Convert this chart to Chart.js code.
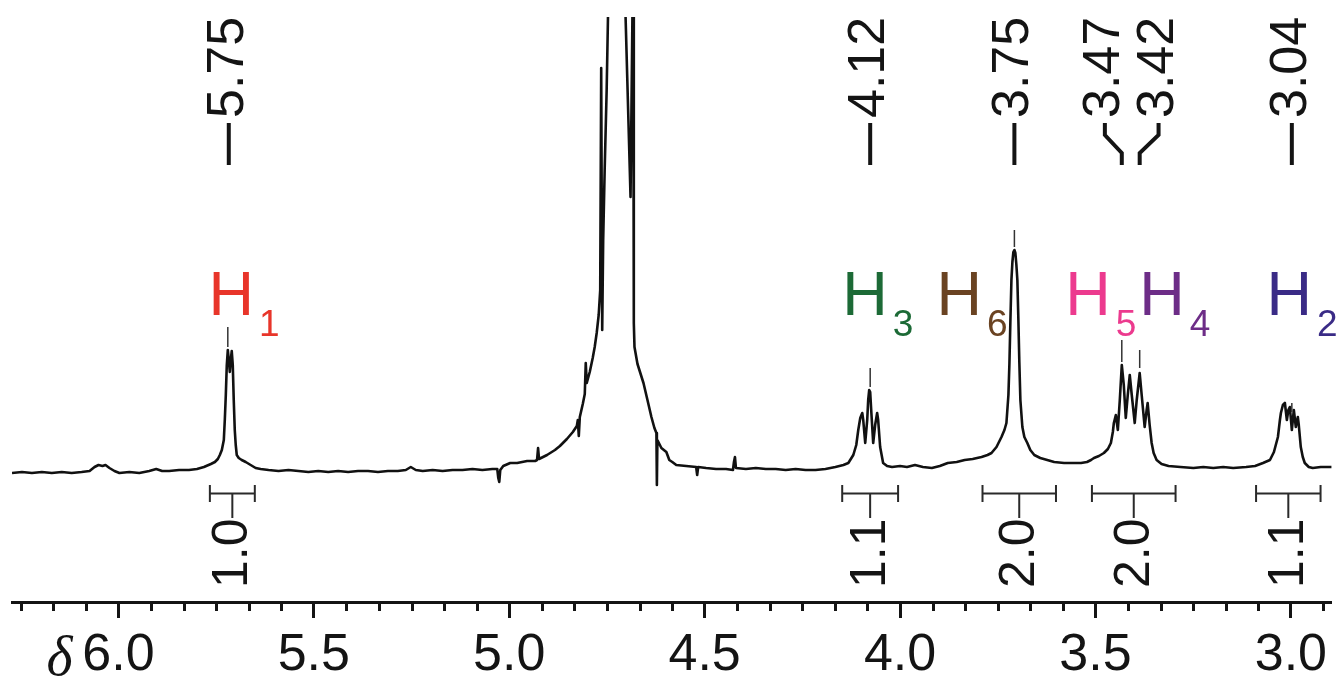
<!DOCTYPE html>
<html>
<head>
<meta charset="utf-8">
<script src="https://cdn.jsdelivr.net/npm/chart.js@4.4.1/dist/chart.umd.min.js"></script>
<style>
html,body{margin:0;padding:0;background:#fff;}
canvas{display:block;}
</style>
</head>
<body>
<canvas id="c" width="1339" height="680"></canvas>
<script>
// ---- spectrum (chemical shift δ / ppm, intensity a.u.) ----
const shiftPpm = [
6.2723,6.2468,6.2214,6.1959,6.1705,6.1450,6.1196,6.0941,6.0738,6.0611,6.0509,6.0407,6.0331,6.0229,6.0102,5.9975,
5.9720,5.9466,5.9211,5.9033,5.8881,5.8702,5.8448,5.8194,5.7990,5.7812,5.7634,5.7532,5.7456,5.7405,5.7354,5.7303,
5.7278,5.7252,5.7227,5.7201,5.7176,5.7150,5.7125,5.7100,5.7074,5.7049,5.7023,5.6998,5.6972,5.6921,5.6845,5.6743,
5.6616,5.6489,5.6361,5.6158,5.5903,5.5649,5.5393,5.5140,5.4886,5.4631,5.4377,5.4122,5.3868,5.3613,5.3359,5.3104,
5.2850,5.2646,5.2519,5.2391,5.2213,5.1959,5.1705,5.1450,5.1196,5.0941,5.0687,5.0432,5.0306,5.0280,5.0255,5.0229,
5.0153,4.9975,4.9797,4.9542,4.9338,4.9288,4.9262,4.9237,4.9033,4.8830,4.8703,4.8525,4.8372,4.8270,4.8245,4.8220,
4.8194,4.8118,4.8067,4.8042,4.8016,4.7940,4.7864,4.7813,4.7762,4.7711,4.7672,4.7647,4.7621,4.7596,4.7558,4.7507,
4.7456,4.7252,4.7048,4.7023,4.6896,4.6830,4.6812,4.6795,4.6718,4.6565,4.6463,4.6362,4.6285,4.6234,4.6222,4.6209,
4.6107,4.5980,4.5904,4.5828,4.5726,4.5471,4.5217,4.5191,4.5166,4.4962,4.4708,4.4453,4.4275,4.4250,4.4224,4.4199,
4.3944,4.3690,4.3435,4.3181,4.2926,4.2672,4.2418,4.2163,4.1909,4.1654,4.1450,4.1323,4.1196,4.1120,4.1069,4.1018,
4.0967,4.0942,4.0891,4.0840,4.0815,4.0789,4.0764,4.0738,4.0687,4.0637,4.0586,4.0560,4.0509,4.0433,4.0331,4.0205,
4.0000,3.9822,3.9618,3.9415,3.9186,3.8982,3.8779,3.8550,3.8346,3.8142,3.7914,3.7761,3.7660,3.7532,3.7405,3.7329,
3.7278,3.7227,3.7201,3.7176,3.7150,3.7125,3.7100,3.7074,3.7049,3.7023,3.6998,3.6972,3.6947,3.6921,3.6870,3.6819,
3.6743,3.6667,3.6565,3.6412,3.6234,3.6056,3.5802,3.5547,3.5369,3.5216,3.5114,3.5038,3.4911,3.4784,3.4682,3.4605,
3.4555,3.4529,3.4478,3.4427,3.4377,3.4326,3.4275,3.4224,3.4173,3.4122,3.4071,3.3995,3.3944,3.3868,3.3817,3.3741,
3.3690,3.3664,3.3613,3.3562,3.3511,3.3435,3.3308,3.3130,3.2825,3.2494,3.2240,3.1985,3.1731,3.1476,3.1145,3.0916,
3.0713,3.0535,3.0433,3.0331,3.0280,3.0255,3.0204,3.0153,3.0102,3.0064,3.0026,2.9975,2.9924,2.9873,2.9822,2.9797,
2.9746,2.9695,2.9644,2.9542,2.9440,2.9236,2.8956
];
const intensity = [
-1,0,-1,0,-1,0,-1,0,1,5,7,6,7,4,1,-1,
0,-1,1,3,1,1,2,2,3,5,8,10,13,17,22,32,
52,77,107,122,112,100,112,121,107,72,42,27,17,14,12,10,
7,4,3,2,1,2,1,0,1,0,1,0,1,1,0,1,
1,2,5,2,1,2,1,2,2,3,2,3,3,-6,-10,2,
6,9,9,11,11,12,24,13,17,22,26,33,40,46,52,36,
55,68,78,109,89,100,114,125,139,157,182,404,142,232,302,382,
492,1500,492,455,275,522,149,125,108,89,72,55,44,39,-13,32,
24,20,12,10,7,6,5,-3,5,4,3,3,2,10,15,4,
3,4,3,3,2,3,2,2,3,5,7,9,17,27,42,54,
59,52,29,52,72,82,80,62,29,47,59,52,25,9,6,5,
6,5,7,5,4,6,9,10,12,13,15,17,19,25,35,42,
49,77,109,152,192,210,220,222,219,207,192,152,109,72,45,35,
29,22,17,14,12,10,9,9,9,10,12,14,16,19,23,29,
40,49,57,42,72,107,87,54,77,97,77,49,72,99,77,45,
62,69,47,29,19,12,8,6,5,4,5,4,5,4,5,6,
9,12,20,35,52,59,67,69,52,62,65,42,62,45,55,47,
25,15,9,5,4,5,5
];

// ---- axis ----
const axisMax = 6.2723, axisMin = 2.8956;
const majorTicks = [6.0, 5.5, 5.0, 4.5, 4.0, 3.5, 3.0];
const tickLabels = ['6.0', '5.5', '5.0', '4.5', '4.0', '3.5', '3.0'];

// ---- peak picking (label text, label anchor ppm, peak ppm) ----
const shiftLabels = ['5.75', '4.12', '3.75', '3.47', '3.42', '3.04'];
const shiftAnchor = [5.7176, 4.0764, 3.7074, 3.4759, 3.3385, 2.9975];
const shiftPeak = [5.7176, 4.0764, 3.7074, 3.4326, 3.3868, 2.9975];

// ---- assignment marks above peaks (ppm, intensity from, intensity to) ----
const markPpm = [5.7201, 4.0764, 3.7074, 3.4326, 3.3868, 2.9975];
const markFrom = [125, 85, 225, 110, 104, 60];
const markTo = [145, 104, 242, 132, 122, 69];

// ---- proton assignments ----
const protonSub = ['1', '3', '6', '5', '4', '2'];
const protonPpm = [5.7112, 4.0894, 3.8486, 3.5191, 3.3296, 3.0039];
const protonColor = ['#e8352a', '#1c6a36', '#6a4322', '#ec3a8e', '#6d2d87', '#3a2b86'];

// ---- integrals ----
const integFrom = [5.766, 4.148, 3.789, 3.509, 3.089];
const integTo = [5.651, 4.005, 3.601, 3.295, 2.924];
const integValue = ['1.0', '1.1', '2.0', '2.0', '1.1'];

const NARROW = '"Liberation Sans Narrow", "Arial Narrow", "Liberation Sans", sans-serif';
const INK = '#141414';

const annotPlugin = {
  id: 'annot',
  afterDraw(chart) {
    const { ctx, chartArea } = chart;
    const xs = chart.scales.x, ys = chart.scales.y;
    ctx.save();
    // minor ticks every 1/12 ppm
    ctx.strokeStyle = INK; ctx.lineWidth = 3; ctx.lineCap = 'butt';
    for (let i = 0; i <= 40; i++) {
      const v = 6.25 - i / 12;
      if (v < axisMin) break;
      if (Math.abs(v * 2 - Math.round(v * 2)) < 1e-6) continue;
      const px = Math.round(xs.getPixelForValue(v)) + 0.5;
      ctx.beginPath(); ctx.moveTo(px, chartArea.bottom); ctx.lineTo(px, chartArea.bottom + 9); ctx.stroke();
    }
    // delta symbol
    ctx.fillStyle = INK;
    ctx.font = 'italic 56px "Liberation Serif", "DejaVu Serif", serif';
    ctx.textAlign = 'right'; ctx.textBaseline = 'alphabetic';
    ctx.fillText('δ', xs.getPixelForValue(6.0) - 46, 675);

    // assignment marks
    ctx.strokeStyle = '#333'; ctx.lineWidth = 1.5;
    markPpm.forEach((p, i) => {
      const px = xs.getPixelForValue(p);
      ctx.beginPath(); ctx.moveTo(px, ys.getPixelForValue(markFrom[i])); ctx.lineTo(px, ys.getPixelForValue(markTo[i])); ctx.stroke();
    });

    // peak-picking labels
    ctx.strokeStyle = INK; ctx.lineWidth = 4;
    shiftLabels.forEach((t, i) => {
      const ax = xs.getPixelForValue(shiftAnchor[i]);
      const tx = xs.getPixelForValue(shiftPeak[i]);
      ctx.beginPath();
      ctx.moveTo(ax, 123); ctx.lineTo(ax, 135); ctx.lineTo(tx, 153); ctx.lineTo(tx, 165);
      ctx.stroke();
      ctx.save();
      ctx.translate(ax + 14, 118); ctx.rotate(-Math.PI / 2);
      ctx.font = '52px ' + NARROW; ctx.fillStyle = INK;
      ctx.textAlign = 'left'; ctx.textBaseline = 'alphabetic';
      ctx.fillText(t, 0, 0);
      ctx.restore();
    });

    // proton labels
    protonSub.forEach((s, i) => {
      const cx = xs.getPixelForValue(protonPpm[i]);
      ctx.fillStyle = protonColor[i];
      ctx.font = '63px ' + NARROW;
      ctx.textAlign = 'center'; ctx.textBaseline = 'alphabetic';
      const w = ctx.measureText('H').width;
      ctx.fillText('H', cx, 315);
      ctx.font = '37px ' + NARROW;
      ctx.textAlign = 'left';
      ctx.fillText(s, cx + w / 2 + 5, 336);
    });

    // integrals
    ctx.strokeStyle = '#2a2a2a'; ctx.lineWidth = 2;
    integValue.forEach((t, i) => {
      const x1 = xs.getPixelForValue(integFrom[i]);
      const x2 = xs.getPixelForValue(integTo[i]);
      const xm = (x1 + x2) / 2;
      ctx.beginPath();
      ctx.moveTo(x1, 485); ctx.lineTo(x1, 502);
      ctx.moveTo(x2, 485); ctx.lineTo(x2, 502);
      ctx.moveTo(x1, 493.5); ctx.lineTo(x2, 493.5);
      ctx.moveTo(xm, 493.5); ctx.lineTo(xm, 518);
      ctx.stroke();
      ctx.save();
      ctx.translate(xm + 15, 588); ctx.rotate(-Math.PI / 2);
      ctx.font = '50px ' + NARROW; ctx.fillStyle = INK;
      ctx.textAlign = 'left'; ctx.textBaseline = 'alphabetic';
      ctx.fillText(t, 0, 0);
      ctx.restore();
    });
    ctx.restore();
  }
};

new Chart(document.getElementById('c'), {
  type: 'line',
  data: {
    datasets: [{
      data: shiftPpm.map((p, i) => ({ x: p, y: intensity[i] })),
      borderColor: '#111',
      borderWidth: 2.6,
      borderJoinStyle: 'round',
      pointRadius: 0,
      tension: 0,
      fill: false
    }]
  },
  options: {
    responsive: false,
    devicePixelRatio: 1,
    animation: false,
    layout: { padding: { left: 12, top: 17, right: 0, bottom: 0 } },
    plugins: { legend: { display: false }, tooltip: { enabled: false } },
    scales: {
      x: {
        type: 'linear',
        reverse: true,
        min: axisMin,
        max: axisMax,
        afterBuildTicks: (s) => { s.ticks = majorTicks.map(v => ({ value: v })); },
        afterFit: (s) => { s.height = 78; },
        ticks: {
          autoSkip: false,
          maxRotation: 0,
          padding: 12,
          color: INK,
          font: { family: NARROW, size: 52, lineHeight: 1 },
          callback: (v) => { const k = majorTicks.findIndex(m => Math.abs(m - v) < 1e-6); return k >= 0 ? tickLabels[k] : ''; }
        },
        grid: { drawOnChartArea: false, drawTicks: true, tickLength: 16, tickWidth: 3, tickColor: INK },
        border: { display: true, width: 3, color: INK }
      },
      y: { display: false, min: -130, max: 455 }
    }
  },
  plugins: [annotPlugin]
});
</script>
</body>
</html>
